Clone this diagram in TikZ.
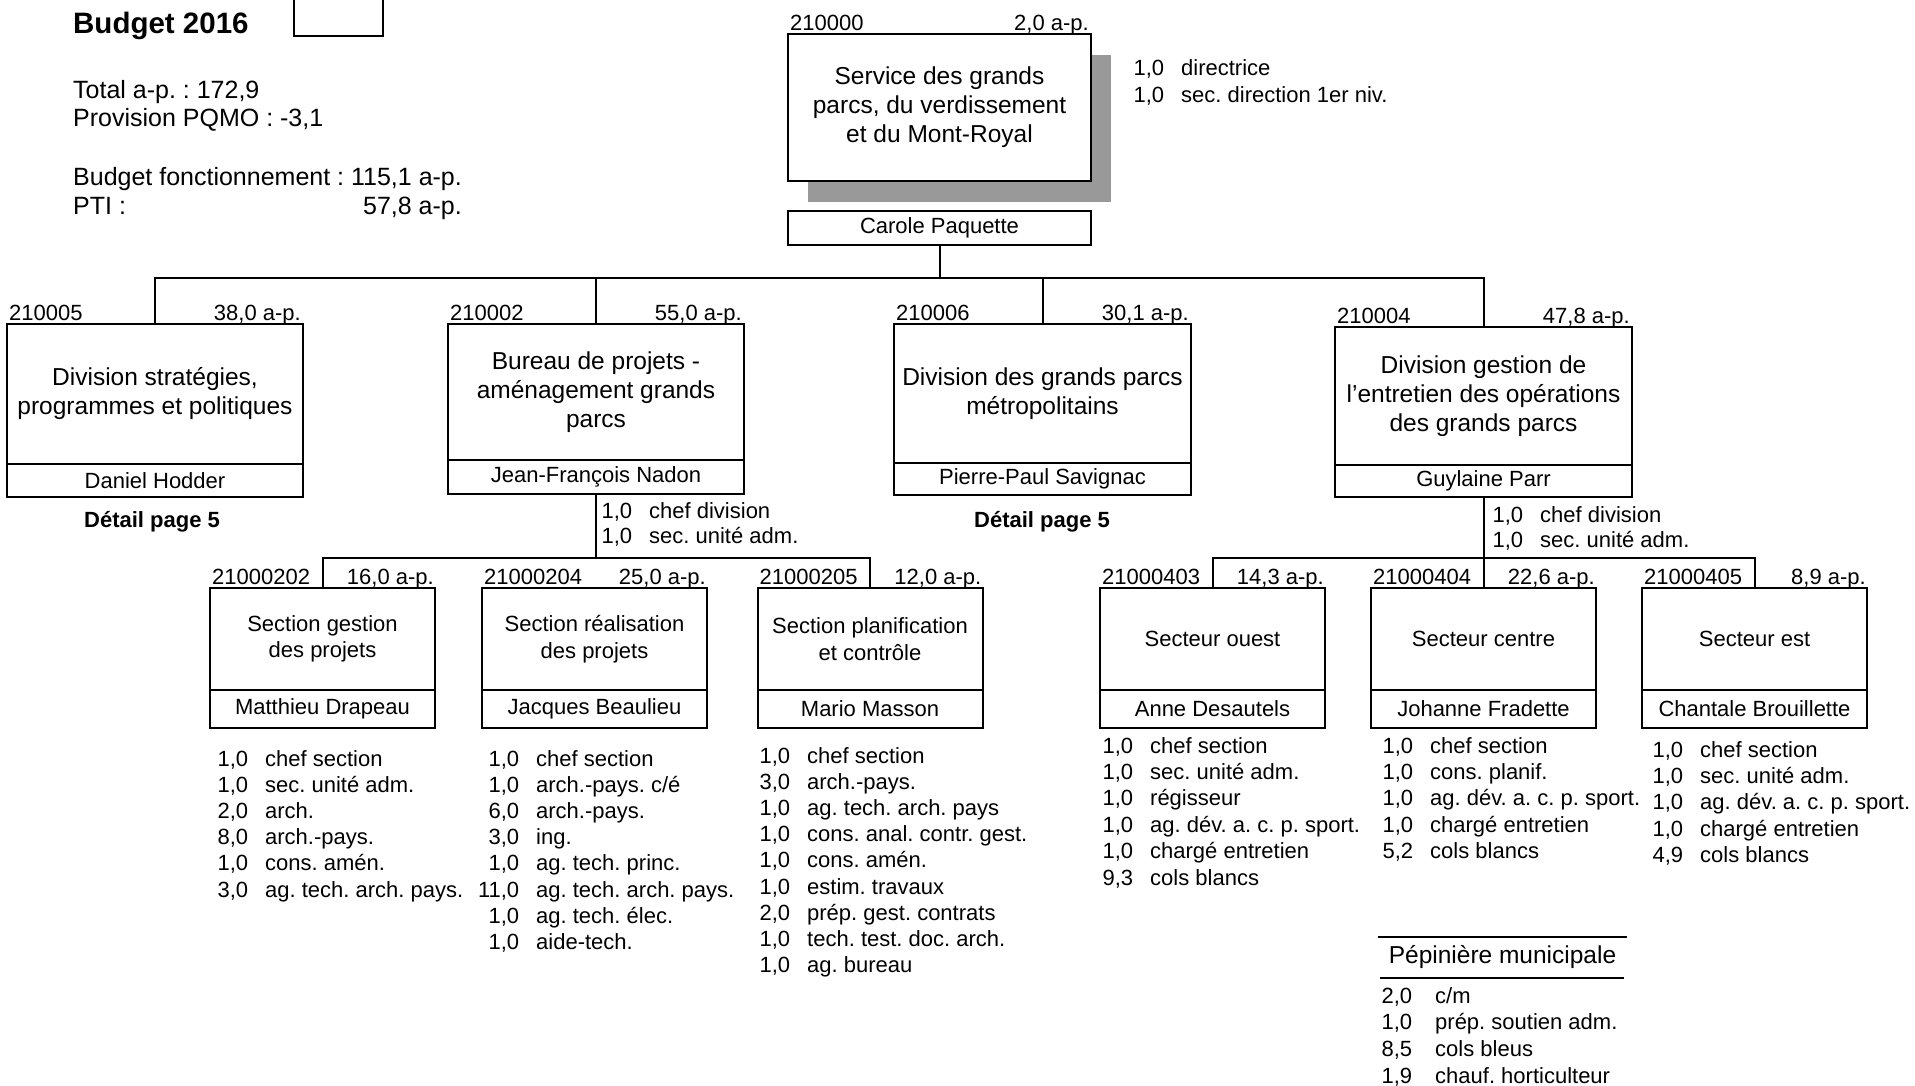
\documentclass[tikz,border=0pt]{standalone}
\usepackage{fontspec}
\setmainfont{Liberation Sans}
\frenchspacing
\newcommand\fA{\fontsize{24.5pt}{29pt}\selectfont}
\newcommand\fT{\fontsize{25pt}{29pt}\selectfont}
\newcommand\fB{\fontsize{22pt}{26.5pt}\selectfont}
\newcommand\fH{\fontsize{29.5pt}{34pt}\selectfont\bfseries}
\newcommand\nb[1]{\makebox[45pt][r]{#1}}
\newcommand\plist[1]{\begin{tabular}[t]{@{}l@{\hspace{17pt}}l@{}}#1\end{tabular}}
\begin{document}
\frenchspacing
\begin{tikzpicture}[x=1pt,y=-1pt,
  bx/.style={draw, line width=2pt, inner sep=0pt, outer sep=0pt, align=center, fill=white},
  big/.style={bx, font=\fA},
  sml/.style={bx, font=\fB},
  lbl/.style={inner sep=0pt, font=\fB},
  hdr/.style={inner sep=0pt, font=\fT, anchor=base west},
  lst/.style={inner sep=0pt, anchor=base west},
  cn/.style={line width=2pt, line cap=rect},
]
\useasboundingbox (0,0) rectangle (1915,1086);

% header
\node[inner sep=0pt, font=\fH, anchor=base west] (title) at (73,33.5) {Budget 2016};
\node[draw, line width=2pt, minimum width=89pt, minimum height=50pt, inner sep=0pt, anchor=south west] (blank) at (293,37) {};
\node[hdr] (tot) at (73,99) {Total a-p. : 172,9};
\node[hdr] (prov) at (73,127) {Provision PQMO : -3,1};
\node[hdr] (bf) at (73,186) {Budget fonctionnement : 115,1 a-p.};
\node[hdr] (pti) at (73,215) {PTI :};
\node[inner sep=0pt, font=\fT, anchor=base east] (ptiv) at (462,215) {57,8 a-p.};

% top unit
\node[fill=black!40, minimum width=303pt, minimum height=147pt, inner sep=0pt] (shadow) at (959.5,128.5) {};
\node[big, minimum width=303pt, minimum height=147pt] (top) at (939.5,107.5) {Service des grands\\parcs, du verdissement\\et du Mont-Royal};
\node[sml, minimum width=303pt, minimum height=34pt] (topn) at (939.5,228) {Carole Paquette};
\node[lbl, anchor=base west] (topc) at ([xshift=2pt,yshift=3.5pt]top.north west) {210000};
\node[lbl, anchor=base east] (topa) at ([xshift=-2pt,yshift=3.5pt]top.north east) {2,0 a-p.};
\node[lst, font=\fontsize{22pt}{27pt}\selectfont] (topl) at (1119,76) {\plist{\nb{1,0} & directrice\\ \nb{1,0} & sec. direction 1er niv.}};

% level 2
\node[big, minimum width=296pt, minimum height=140pt] (u5) at (155,394) {Division stratégies,\\programmes et politiques};
\node[sml, minimum width=296pt, minimum height=33pt, anchor=north] (u5n) at (u5.south) {Daniel Hodder};
\node[big, minimum width=296pt, minimum height=136pt] (u2) at (596,392) {Bureau de projets -\\aménagement grands\\parcs};
\node[sml, minimum width=296pt, minimum height=34pt, anchor=north] (u2n) at (u2.south) {Jean-François Nadon};
\node[big, minimum width=297pt, minimum height=139pt] (u6) at (1042.5,393.5) {Division des grands parcs\\métropolitains};
\node[sml, minimum width=297pt, minimum height=32pt, anchor=north] (u6n) at (u6.south) {Pierre-Paul Savignac};
\node[big, minimum width=297pt, minimum height=138pt] (u4) at (1483.5,396) {Division gestion de\\l’entretien des opérations\\des grands parcs};
\node[sml, minimum width=297pt, minimum height=32pt, anchor=north] (u4n) at (u4.south) {Guylaine Parr};

\foreach \n/\c/\a in {u5/210005/{38,0}, u2/210002/{55,0}, u6/210006/{30,1}, u4/210004/{47,8}}{
  \node[lbl, anchor=base west] (\n c) at ([xshift=2pt,yshift=3.5pt]\n.north west) {\c};
  \node[lbl, anchor=base east] (\n a) at ([xshift=-2pt,yshift=3.5pt]\n.north east) {\a{} a-p.};
}

\node[inner sep=0pt, font=\fB\bfseries, anchor=base] (det5) at (152,527) {Détail page 5};
\node[inner sep=0pt, font=\fB\bfseries, anchor=base] (det6) at (1042,527) {Détail page 5};

\node[lst, font=\fontsize{22pt}{25pt}\selectfont] (u2l) at (587,518) {\plist{\nb{1,0} & chef division\\ \nb{1,0} & sec. unité adm.}};
\node[lst, font=\fontsize{22pt}{25pt}\selectfont] (u4l) at (1478,522) {\plist{\nb{1,0} & chef division\\ \nb{1,0} & sec. unité adm.}};

% connectors level 1-2
\coordinate (bar) at (0,278);
\draw[cn] (topn.south) -- (topn.south |- bar);
\draw[cn] (u5.north |- bar) -- (u4.north |- bar);
\foreach \n in {u5,u2,u6,u4}{\draw[cn] (\n.north) -- (\n.north |- bar);}

% level 3
\foreach \n/\x/\t/\p in {
  s202/322.5/{Section gestion\\des projets}/Matthieu Drapeau,
  s204/594.5/{Section réalisation\\des projets}/Jacques Beaulieu,
  s205/870/{Section planification\\et contrôle}/Mario Masson,
  s403/1212.5/{Secteur ouest}/Anne Desautels,
  s404/1483.5/{Secteur centre}/Johanne Fradette,
  s405/1754.5/{Secteur est}/Chantale Brouillette}{
  \node[sml, minimum width=225pt, minimum height=102pt] (\n) at (\x,639) {\t};
  \node[sml, minimum width=225pt, minimum height=37.5pt, anchor=north] (\n n) at (\n.south) {\p};
}
\foreach \n/\c/\a in {s202/21000202/{16,0}, s204/21000204/{25,0}, s205/21000205/{12,0}, s403/21000403/{14,3}, s404/21000404/{22,6}, s405/21000405/{8,9}}{
  \node[lbl, anchor=base west] (\n c) at ([xshift=2pt,yshift=3.5pt]\n.north west) {\c};
  \node[lbl, anchor=base east] (\n a) at ([xshift=-1pt,yshift=3.5pt]\n.north east) {\a{} a-p.};
}

% connectors level 2-3
\coordinate (subbar) at (0,557.5);
\draw[cn] (u2n.south) -- (u2n.south |- subbar);
\draw[cn] (s202.north |- subbar) -- (s205.north |- subbar);
\draw[cn] (s202.north) -- (s202.north |- subbar);
\draw[cn] (s205.north) -- (s205.north |- subbar);
\draw[cn] (u4n.south) -- (s404.north);
\draw[cn] (s403.north |- subbar) -- (s405.north |- subbar);
\draw[cn] (s403.north) -- (s403.north |- subbar);
\draw[cn] (s405.north) -- (s405.north |- subbar);

% lists
\node[lst, font=\fontsize{22pt}{26.2pt}\selectfont] (l202) at (203,766) {\plist{\nb{1,0} & chef section\\ \nb{1,0} & sec. unité adm.\\ \nb{2,0} & arch.\\ \nb{8,0} & arch.-pays.\\ \nb{1,0} & cons. amén.\\ \nb{3,0} & ag. tech. arch. pays.}};
\node[lst, font=\fontsize{22pt}{26.2pt}\selectfont] (l204) at (474,766) {\plist{\nb{1,0} & chef section\\ \nb{1,0} & arch.-pays. c/é\\ \nb{6,0} & arch.-pays.\\ \nb{3,0} & ing.\\ \nb{1,0} & ag. tech. princ.\\ \nb{11,0} & ag. tech. arch. pays.\\ \nb{1,0} & ag. tech. élec.\\ \nb{1,0} & aide-tech.}};
\node[lst, font=\fontsize{22pt}{26.2pt}\selectfont] (l205) at (745,763) {\plist{\nb{1,0} & chef section\\ \nb{3,0} & arch.-pays.\\ \nb{1,0} & ag. tech. arch. pays\\ \nb{1,0} & cons. anal. contr. gest.\\ \nb{1,0} & cons. amén.\\ \nb{1,0} & estim. travaux\\ \nb{2,0} & prép. gest. contrats\\ \nb{1,0} & tech. test. doc. arch.\\ \nb{1,0} & ag. bureau}};
\node[lst, font=\fontsize{22pt}{26.4pt}\selectfont] (l403) at (1088,753) {\plist{\nb{1,0} & chef section\\ \nb{1,0} & sec. unité adm.\\ \nb{1,0} & régisseur\\ \nb{1,0} & ag. dév. a. c. p. sport.\\ \nb{1,0} & chargé entretien\\ \nb{9,3} & cols blancs}};
\node[lst, font=\fontsize{22pt}{26.4pt}\selectfont] (l404) at (1368,753) {\plist{\nb{1,0} & chef section\\ \nb{1,0} & cons. planif.\\ \nb{1,0} & ag. dév. a. c. p. sport.\\ \nb{1,0} & chargé entretien\\ \nb{5,2} & cols blancs}};
\node[lst, font=\fontsize{22pt}{26.4pt}\selectfont] (l405) at (1638,757) {\plist{\nb{1,0} & chef section\\ \nb{1,0} & sec. unité adm.\\ \nb{1,0} & ag. dév. a. c. p. sport.\\ \nb{1,0} & chargé entretien\\ \nb{4,9} & cols blancs}};

% Pepiniere
\node[inner sep=0pt, minimum width=247pt, minimum height=41pt, font=\fA] (pep) at (1502.5,957.5) {Pépinière municipale};
\draw[cn] (pep.north west) -- (pep.north east);
\draw[cn] ([xshift=2pt]pep.south west) -- ([xshift=-3pt]pep.south east);
\node[lst, font=\fontsize{22pt}{26.7pt}\selectfont] (pepl) at (1367,1003) {\begin{tabular}[t]{@{}l@{\hspace{23pt}}l@{}}\nb{2,0} & c/m\\ \nb{1,0} & prép. soutien adm.\\ \nb{8,5} & cols bleus\\ \nb{1,9} & chauf. horticulteur\end{tabular}};
\end{tikzpicture}
\end{document}
